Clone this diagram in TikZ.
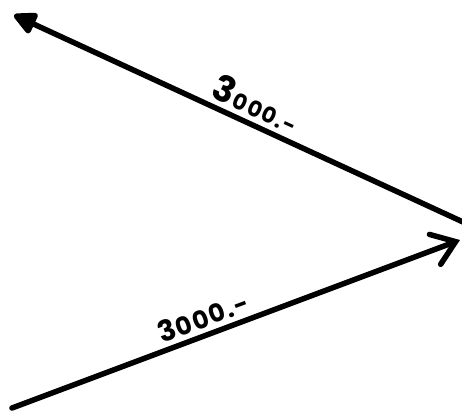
\documentclass[tikz,border=0pt]{standalone}
\usepackage{fontspec}
\setmainfont{Poppins}[LetterSpace=6]
\usetikzlibrary{arrows.meta}
\begin{document}
\begin{tikzpicture}[x=1pt,y=-1pt,
  wire/.style={line width=5.5pt,line cap=round,line join=round},
  amount/.style={font=\bfseries,inner sep=0pt,sloped,above=7pt}]
\useasboundingbox (0,0) rectangle (462,412);
\coordinate (uS) at (463,222);
\coordinate (uE) at (14,15);
\coordinate (lS) at (12,408);
\coordinate (lE) at (460,240);
\draw[wire,-{Triangle[length=26pt,width=24pt,round]}] (uS) -- (uE);
\draw[wire,-{Straight Barb[length=22pt,width=32pt,line cap=round]}] (lS) -- (lE);
\path (uE) -- (uS) node[amount,pos=0.52] (uL) {\fontsize{36}{38}\selectfont 3\kern2pt\fontsize{22}{24}\selectfont 000.-};
\path (lS) -- (lE) node[amount,pos=0.44] (lL) {\fontsize{29}{31}\selectfont 3\kern1pt\fontsize{25}{27}\selectfont 000.-};
\end{tikzpicture}
\end{document}
